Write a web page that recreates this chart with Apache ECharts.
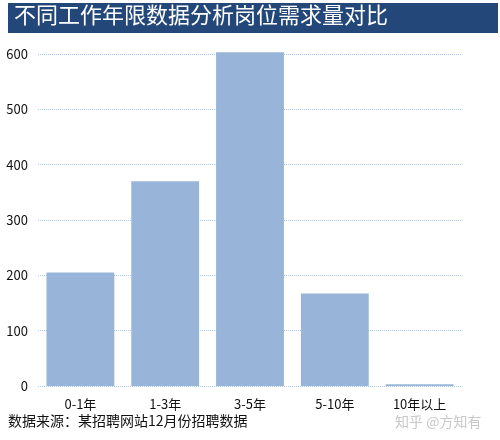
<!DOCTYPE html>
<html><head><meta charset="utf-8">
<script src="https://cdn.jsdelivr.net/npm/echarts@6/dist/echarts.min.js"></script>
<style>body{margin:0;background:#fff}#c{width:500px;height:440px}</style>
</head><body><div id="c"></div>
<script>
const categories = ['0-1年', '1-3年', '3-5年', '5-10年', '10年以上'];
const demand = [205, 370, 603, 167, 3];
const titleText = '不同工作年限数据分析岗位需求量对比';
const sourceText = '数据来源：某招聘网站12月份招聘数据';
const font = '"Noto Sans CJK SC", sans-serif';

const chart = echarts.init(document.getElementById('c'));
chart.setOption({
  animation: false,
  graphic: [
    {type: 'rect', shape: {x: 8, y: 3, width: 490, height: 30}, style: {fill: '#24477a'}},
    {type: 'text', left: 14, top: 4, style: {text: titleText, fill: '#fff', font: '22px ' + font}},
    {type: 'text', left: 8, top: 414, style: {text: sourceText, fill: '#111', font: '14px ' + font}},
    {type: 'text', left: 395, top: 415, style: {text: '知乎 @方知有', fill: '#c8c8c8', font: '14px ' + font}}
  ],
  grid: {left: 38, right: 38, top: 54, bottom: 54},
  xAxis: {
    type: 'category', data: categories,
    axisLine: {show: false}, axisTick: {show: false},
    axisLabel: {color: '#111', fontSize: 13, fontFamily: font, margin: 12}
  },
  yAxis: {
    type: 'value', min: 0, max: 600, interval: 100,
    axisLine: {show: false}, axisTick: {show: false},
    axisLabel: {color: '#111', fontSize: 13, fontFamily: font, margin: 10},
    splitLine: {lineStyle: {color: '#b4c8e0', type: 'dotted'}}
  },
  series: [{
    type: 'bar', data: demand, barCategoryGap: '20%', clip: false,
    itemStyle: {color: '#98b4d8'}
  }]
});
</script></body></html>
